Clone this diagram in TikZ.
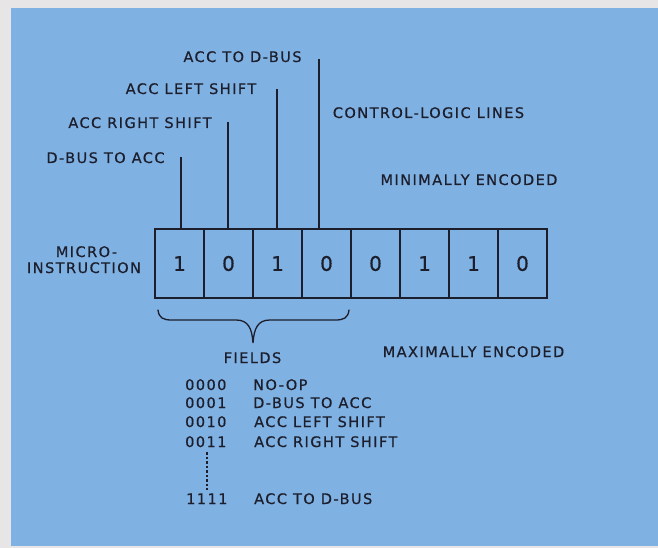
\documentclass[tikz,border=0pt]{standalone}
\usepackage{fontspec}
\setmainfont{DejaVu Sans}[LetterSpace=10,FakeBold=0.6]
\newfontfamily\digitfont{DejaVu Sans}[LetterSpace=0,FakeBold=0.6]
\definecolor{panel}{HTML}{80B1E3}
\definecolor{outer}{HTML}{E7E5E5}
\definecolor{ink}{HTML}{1C1E2C}
\begin{document}
\begin{tikzpicture}[x=1pt,y=-1pt,
  lab/.style={text=ink,font=\fontsize{14.5}{16}\selectfont,inner sep=0pt,anchor=base},
  code/.style={lab,anchor=base west},
  cell/.style={draw=ink,line width=1.5pt,minimum width=49pt,minimum height=69pt,
    inner sep=0pt,outer sep=0pt,text=ink,font=\digitfont\fontsize{20}{22}\selectfont},
  wire/.style={draw=ink,line width=1.4pt},
]
\useasboundingbox (0,0) rectangle (658,548);
\fill[outer] (0,0) rectangle (658,548);
\fill[panel] (11,8) rectangle (658,546);

% cells
\foreach \d [count=\i] in {1,0,1,0,0,1,1,0}{
  \node[cell] (c\i) at ({179.5+49*(\i-1)},263.5) {\d};
}

% control lines
\coordinate (t1) at (181,157);
\coordinate (t2) at (228,122);
\coordinate (t3) at (277,89);
\coordinate (t4) at (319,59);
\draw[wire] (t1) -- (t1 |- c1.north);
\draw[wire] (t2) -- (t2 |- c2.north);
\draw[wire] (t3) -- (t3 |- c3.north);
\draw[wire] (t4) -- (t4 |- c4.north);

% labels
\node[lab] (l4) at (242.5,62) {ACC TO D-BUS};
\node[lab] (l3) at (191,94) {ACC LEFT SHIFT};
\node[lab] (l2) at (140,128) {ACC RIGHT SHIFT};
\node[lab] (l1) at (105.5,163) {D-BUS TO ACC};
\node[lab] (cll) at (428.5,118) {CONTROL-LOGIC LINES};
\node[lab] (mine) at (469,185) {MINIMALLY ENCODED};
\node[lab] (mi1) at (86.5,257) {MICRO-};
\node[lab] (mi2) at (84,273) {INSTRUCTION};
\node[lab] (fields) at (252.5,363) {FIELDS};
\node[lab] (maxe) at (473.5,357) {MAXIMALLY ENCODED};

% brace
\draw[draw=ink,line width=1.3pt,line cap=round]
  (158,310) .. controls (159,318) and (163,320) .. (172,320) -- (236,320)
  .. controls (248,320) and (252,328) .. (253,343)
  .. controls (254,328) and (258,320) .. (270,320) -- (335,320)
  .. controls (344,320) and (348,318) .. (349,310);

% code table
\node[code] (k1) at (185,390) {0000};
\node[code] (d1) at (253,390) {NO-OP};
\node[code] (k2) at (185,408) {0001};
\node[code] (d2) at (253,408) {D-BUS TO ACC};
\node[code] (k3) at (185,427) {0010};
\node[code] (d3) at (254,427) {ACC LEFT SHIFT};
\node[code] (k4) at (185,447) {0011};
\node[code] (d4) at (254,447) {ACC RIGHT SHIFT};
\node[code] (k5) at (186,504) {1111};
\node[code] (d5) at (254,504) {ACC TO D-BUS};

\coordinate (dt) at (207,452);
\coordinate (db) at (207,490);
\draw[draw=ink,line width=1.3pt,dash pattern=on 2.5pt off 2pt] (dt) -- (db);
\end{tikzpicture}
\end{document}
